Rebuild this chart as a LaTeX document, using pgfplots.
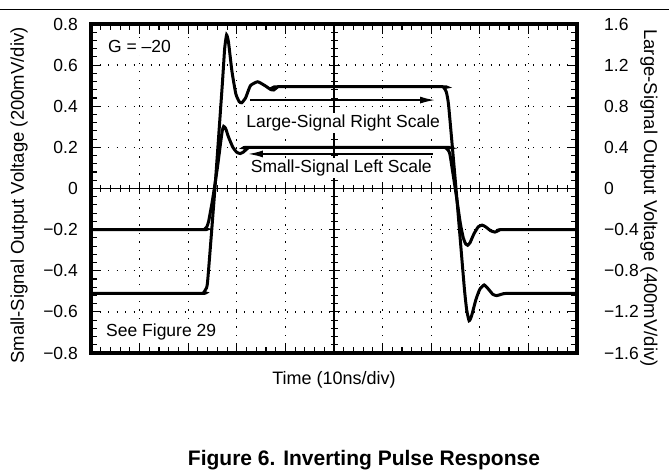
\documentclass[border=0pt]{standalone}
\usepackage{fontspec}
\setmainfont{Liberation Sans}
\usepackage{pgfplots}
\pgfplotsset{compat=1.18}
\usetikzlibrary{arrows.meta}

\begin{document}
\begin{tikzpicture}
\useasboundingbox (0pt,0pt) rectangle (669pt,-476pt);
\draw[line width=1.5pt] (0pt,-9.5pt) -- (669pt,-9.5pt);
\begin{axis}[
  at={(91pt,-353pt)}, anchor=south west,
  scale only axis, width=486pt, height=329pt,
  xmin=0,xmax=10,ymin=-0.8,ymax=0.8,
  xtick={0,1,2,3,4,5,6,7,8,9,10}, xticklabels={},
  minor x tick num=4,
  ytick={-0.8,-0.6,-0.4,-0.2,0,0.2,0.4,0.6,0.8},
  yticklabels={−0.8,−0.6,−0.4,−0.2,0,0.2,0.4,0.6,0.8},
  minor y tick num=4,
  tick align=inside, xtick pos=both, ytick pos=both,
  major tick length=10pt, minor tick length=6pt,
  major tick style={black, line width=1.1pt},
  minor tick style={black, line width=1.1pt},
  grid=major,
  major grid style={black, line width=1.3pt, dash pattern=on 1.3pt off 7.2pt},
  yticklabel style={font=\fontsize{17.5}{20}\selectfont, inner sep=0pt, anchor=east, xshift=-13pt},
  clip=false,
]
\draw[black, line width=1.3pt] (axis cs:5,-0.8) -- (axis cs:5,0.8);
\draw[black, line width=1.3pt] (axis cs:0,0) -- (axis cs:10,0);
% cross ticks on the centre lines
\addplot[only marks, mark=|, mark size=3.5pt, mark options={line width=1pt}] coordinates {
(0.2,0) (0.4,0) (0.6,0) (0.8,0) (1.2,0) (1.4,0) (1.6,0) (1.8,0) (2.2,0) (2.4,0) (2.6,0) (2.8,0)
(3.2,0) (3.4,0) (3.6,0) (3.8,0) (4.2,0) (4.4,0) (4.6,0) (4.8,0) (5.2,0) (5.4,0) (5.6,0) (5.8,0)
(6.2,0) (6.4,0) (6.6,0) (6.8,0) (7.2,0) (7.4,0) (7.6,0) (7.8,0) (8.2,0) (8.4,0) (8.6,0) (8.8,0)
(9.2,0) (9.4,0) (9.6,0) (9.8,0)};
\addplot[only marks, mark=|, mark size=5.5pt, mark options={line width=1pt}] coordinates {
(1,0) (2,0) (3,0) (4,0) (6,0) (7,0) (8,0) (9,0)};
\addplot[only marks, mark=-, mark size=3.5pt, mark options={line width=1pt}] coordinates {
(5,-0.76) (5,-0.72) (5,-0.68) (5,-0.64) (5,-0.56) (5,-0.52) (5,-0.48) (5,-0.44)
(5,-0.36) (5,-0.32) (5,-0.28) (5,-0.24) (5,-0.16) (5,-0.12) (5,-0.08) (5,-0.04)
(5,0.04) (5,0.08) (5,0.12) (5,0.16) (5,0.24) (5,0.28) (5,0.32) (5,0.36)
(5,0.44) (5,0.48) (5,0.52) (5,0.56) (5,0.64) (5,0.68) (5,0.72) (5,0.76)};
\addplot[only marks, mark=-, mark size=5.5pt, mark options={line width=1pt}] coordinates {
(5,-0.6) (5,-0.4) (5,-0.2) (5,0.2) (5,0.4) (5,0.6)};

% small signal (left scale)
\addplot[black, line width=3pt, smooth, tension=0.3] coordinates {
(0,-0.2) (2.28,-0.2) (2.34,-0.197) (2.38,-0.188) (2.42,-0.16) (2.50,-0.056)
(2.60,0.10) (2.66,0.21) (2.70,0.28) (2.73,0.302) (2.77,0.292) (2.83,0.25)
(2.92,0.2) (3.0,0.176) (3.07,0.17) (3.14,0.178) (3.22,0.195) (3.3,0.2)
(7.22,0.2) (7.30,0.197) (7.35,0.186) (7.39,0.16) (7.52,-0.04) (7.60,-0.17)
(7.66,-0.24) (7.71,-0.27) (7.75,-0.276) (7.80,-0.263) (7.88,-0.22) (7.97,-0.186)
(8.05,-0.178) (8.13,-0.188) (8.22,-0.205) (8.31,-0.212) (8.38,-0.205) (8.46,-0.2) (10,-0.2)};

% large signal (plotted in left units = right/2)
\addplot[black, line width=3pt, smooth, tension=0.3] coordinates {
(0,-0.51) (2.26,-0.51) (2.32,-0.505) (2.36,-0.49) (2.40,-0.45) (2.55,0.0)
(2.70,0.50) (2.75,0.68) (2.79,0.747) (2.83,0.71) (2.90,0.57) (2.98,0.46)
(3.05,0.422) (3.10,0.417) (3.18,0.44) (3.28,0.50) (3.43,0.519) (3.58,0.50)
(3.70,0.481) (3.76,0.479) (3.82,0.49) (3.90,0.495)
(7.18,0.495) (7.26,0.49) (7.31,0.47) (7.36,0.40) (7.51,0.0) (7.68,-0.48)
(7.73,-0.59) (7.78,-0.643) (7.83,-0.62) (7.92,-0.54) (8.0,-0.49) (8.09,-0.469)
(8.18,-0.49) (8.27,-0.515) (8.35,-0.521) (8.45,-0.514) (8.6,-0.51) (10,-0.51)};

\addplot[black, line width=1.6pt, -{Latex[length=15pt,width=7pt]}] coordinates {(3.27,0.43) (7.08,0.43)};
\addplot[black, line width=1.6pt, {Latex[length=15pt,width=7pt]}-] coordinates {(3.23,0.168) (7.04,0.168)};

\draw[black, line width=3.2pt] (rel axis cs:0,0) rectangle (rel axis cs:1,1);
\end{axis}

\begin{axis}[
  at={(91pt,-353pt)}, anchor=south west,
  scale only axis, width=486pt, height=329pt,
  xmin=0,xmax=10,ymin=-1.6,ymax=1.6,
  axis x line=none, axis y line*=right,
  y axis line style={draw=none},
  ytick={-1.6,-1.2,-0.8,-0.4,0,0.4,0.8,1.2,1.6},
  yticklabels={−1.6,−1.2,−0.8,−0.4,0,0.4,0.8,1.2,1.6},
  major tick length=0pt, minor tick num=0,
  yticklabel style={font=\fontsize{17.5}{20}\selectfont, inner sep=0pt, anchor=west, xshift=27pt},
]
\addplot[draw=none] coordinates {(0,0) (10,0)};
\end{axis}

% in-plot annotations (white boxes over the grid)
\node[anchor=west, inner sep=2pt, fill=white, font=\fontsize{17.5}{20}\selectfont] at (106pt,-46.6pt) {G = \textendash20};
\node[anchor=west, inner sep=2pt, fill=white, font=\fontsize{17.5}{20}\selectfont] at (104pt,-331.8pt) {See Figure 29};
\node[inner sep=2pt, fill=white, font=\fontsize{17.5}{20}\selectfont] at (343.2pt,-123.1pt) {Large-Signal Right Scale};
\node[inner sep=2pt, fill=white, font=\fontsize{17.5}{20}\selectfont] at (341.3pt,-167.9pt) {Small-Signal Left Scale};

\node[rotate=90, inner sep=0pt, font=\fontsize{18.5}{21}\selectfont] at (19pt,-195.5pt) {Small-Signal Output Voltage (200mV/div)};
\node[rotate=-90, inner sep=0pt, font=\fontsize{18.5}{21}\selectfont] at (649pt,-198pt) {Large-Signal Output Voltage (400mV/div)};
\node[inner sep=0pt, font=\fontsize{18}{21}\selectfont] at (334pt,-380pt) {Time (10ns/div)};
\node[inner sep=0pt, font=\bfseries\fontsize{21}{24}\selectfont] at (364pt,-460pt) {Figure 6. Inverting Pulse Response};
\end{tikzpicture}
\end{document}
